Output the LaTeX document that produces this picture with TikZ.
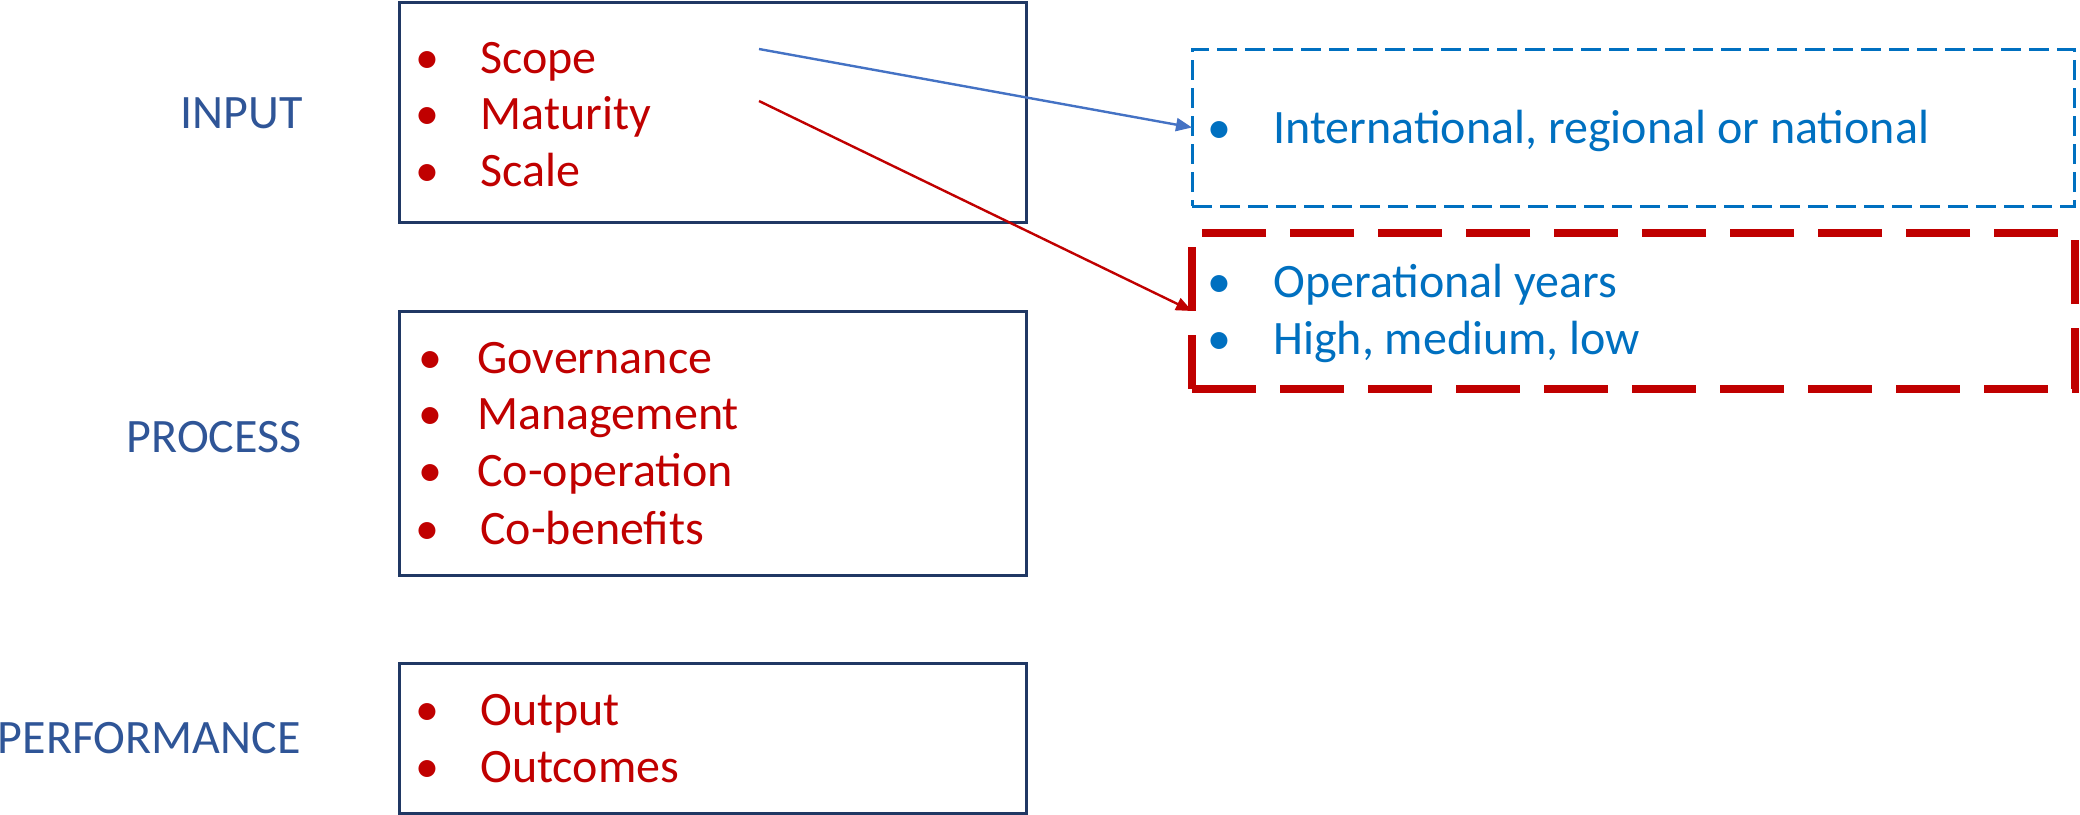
\documentclass[tikz,border=0pt]{standalone}
\usepackage{fontspec}
\setmainfont{Carlito}
\usetikzlibrary{arrows.meta}
\definecolor{itemred}{HTML}{C00000}
\definecolor{labelblue}{HTML}{2F5597}
\definecolor{textblue}{HTML}{0070C0}
\definecolor{navy}{HTML}{203864}
\definecolor{arrowblue}{HTML}{4472C4}
\tikzset{
  txt/.style={inner sep=0pt, font=\fontsize{24}{28}\selectfont},
  item/.style={txt, text=itemred, anchor=base west},
  bul/.style={txt, text=itemred, anchor=base},
  ritem/.style={txt, text=textblue, anchor=base west},
  rbul/.style={txt, text=textblue, anchor=base},
  lab/.style={txt, text=labelblue, anchor=base east},
  box/.style={draw=navy, line width=1.5pt, anchor=north west, inner sep=0pt, outer sep=0pt},
  bluebox/.style={draw=textblue, line width=1.5pt, dash pattern=on 10pt off 4pt, anchor=north west, inner sep=0pt, outer sep=0pt},
  redbox/.style={draw=itemred, line width=3.75pt, dash pattern=on 32pt off 12pt, anchor=north west, inner sep=0pt, outer sep=0pt},
  conn/.style={line width=1.2pt, -{Triangle[length=8pt,width=6.5pt]}}
}
\begin{document}
\begin{tikzpicture}[x=0.5pt,y=-0.5pt]
\useasboundingbox (0,0) rectangle (2080,814);
% boxes
\node[box, minimum width=313.5pt, minimum height=110pt] (inbox) at (399,2) {};
\node[box, minimum width=313.5pt, minimum height=132pt] (procbox) at (399,311) {};
\node[box, minimum width=313.5pt, minimum height=75pt] (perfbox) at (399,663) {};
\node[bluebox, minimum width=441pt, minimum height=78.5pt] (scopebox) at (1192,49) {};
\node[redbox, minimum width=441.5pt, minimum height=78pt] (matbox) at (1192,233) {};
% labels
\node[lab] (linput) at (303,128) {INPUT};
\node[lab] (lprocess) at (302,452) {PROCESS};
\node[lab] (lperf) at (301,753) {PERFORMANCE};
% input items
\node[bul] (b1) at (427,73) {•};
\node[item] (scope) at (480,73) {Scope};
\node[bul] (b2) at (427,129) {•};
\node[item] (maturity) at (480,129) {Maturity};
\node[bul] (b3) at (427,186) {•};
\node[item] (scale) at (480,186) {Scale};
% process items
\node[bul] (b4) at (430,373) {•};
\node[item] (gov) at (477,373) {Governance};
\node[bul] (b5) at (430,429) {•};
\node[item] (man) at (477,429) {Management};
\node[bul] (b6) at (430,486) {•};
\node[item] (coop) at (477,486) {Co-operation};
\node[bul] (b7) at (427,544) {•};
\node[item] (coben) at (480,544) {Co-benefits};
% performance items
\node[bul] (b8) at (427,725) {•};
\node[item] (output) at (480,725) {Output};
\node[bul] (b9) at (427,782) {•};
\node[item] (outcomes) at (480,782) {Outcomes};
% right items
\node[rbul] (b10) at (1219,143) {•};
\node[ritem] (intl) at (1273,143) {International, regional or national};
\node[rbul] (b11) at (1219,297) {•};
\node[ritem] (opyears) at (1273,297) {Operational years};
\node[rbul] (b12) at (1219,354) {•};
\node[ritem] (hml) at (1273,354) {High, medium, low};
% connectors
\coordinate (s1) at (759,49);
\coordinate (s2) at (759,101);
\draw[conn, arrowblue] (s1) -- (scopebox.west);
\draw[conn, itemred] (s2) -- (matbox.west);
\end{tikzpicture}
\end{document}
